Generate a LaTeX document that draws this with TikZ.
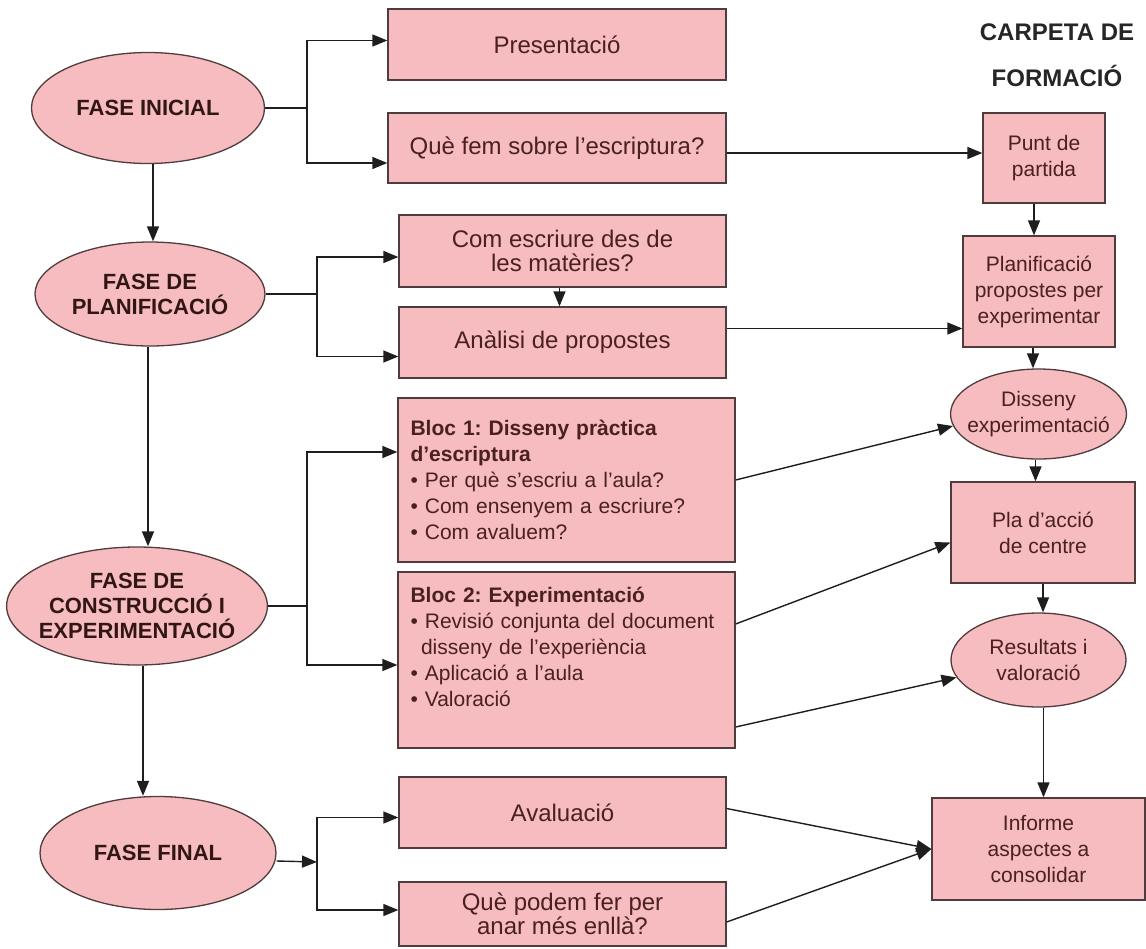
\documentclass[tikz,border=0pt]{standalone}
\usepackage{fontspec}
\setmainfont{Liberation Sans}
\usepackage{tikz}
\usetikzlibrary{shapes}
\usetikzlibrary{arrows.meta}
\definecolor{pinkfill}{RGB}{246,188,191}
\definecolor{edgecol}{RGB}{80,60,60}
\definecolor{txtcol}{RGB}{75,32,32}
\definecolor{phasetxt}{RGB}{50,22,22}
\definecolor{linecol}{RGB}{30,30,30}
\frenchspacing

\begin{document}
\begin{tikzpicture}[x=1pt,y=-1pt,>={Triangle[length=15pt,width=12pt]},
		box/.style={rectangle,draw=edgecol,fill=pinkfill,line width=1.3pt,inner sep=0pt,text=txtcol,align=center,font=\fontsize{24}{24}\selectfont},
		bloc/.style={box,align=left,text width=312pt,font=\fontsize{21}{26}\selectfont},
		rbox/.style={box,font=\fontsize{21}{26}\selectfont},
		phase/.style={ellipse,draw=edgecol,fill=pinkfill,line width=1.3pt,inner xsep=-6pt,inner ysep=0pt,align=center,text=phasetxt,font=\bfseries\fontsize{22}{25}\selectfont},
		rphase/.style={phase,inner xsep=-9pt,text=txtcol,font=\fontsize{21}{26}\selectfont},
		link/.style={draw=linecol,line width=1.4pt}]
		\useasboundingbox (0,0) rectangle (1146,948);
		
		\node[phase,minimum width=233pt,minimum height=111pt] (fi) at (148,108) {FASE INICIAL};
		\node[phase,minimum width=230pt,minimum height=104pt] (fp) at (150,294) {FASE DE\\PLANIFICACIÓ};
		\node[phase,minimum width=258pt,minimum height=118pt] (fc) at (137,606) {FASE DE\\CONSTRUCCIÓ I\\EXPERIMENTACIÓ};
		\node[phase,minimum width=236pt,minimum height=113pt] (ff) at (158,853) {FASE FINAL};
		
		\node[box,minimum width=338pt,minimum height=71pt] (pres)   at (557,44.5)  {Presentació};
		\node[box,minimum width=338pt,minimum height=70pt] (quefem) at (557,148)   {Què fem sobre l’escriptura?};
		\node[box,minimum width=327pt,minimum height=72pt] (com)    at (562.5,251) {Com escriure des de\\les matèries?};
		\node[box,minimum width=327pt,minimum height=71pt] (anal)   at (562.5,342.5) {Anàlisi de propostes};
		\node[bloc,minimum width=337pt,minimum height=164pt] (bloc1) at (566.5,480)
			{\textbf{Bloc 1: Disseny pràctica}\\\textbf{d’escriptura}\\• Per què s’escriu a l’aula?\\• Com ensenyem a escriure?\\• Com avaluem?};
		\node[bloc,minimum width=337pt,minimum height=176pt] (bloc2) at (566.5,660)
			{\textbf{Bloc 2: Experimentació}\\• Revisió conjunta del document\\\hspace*{0.5em}disseny de l’experiència\\• Aplicació a l’aula\\• Valoració\\\mbox{}};
		\node[box,minimum width=327pt,minimum height=71pt] (aval)   at (562.5,812.5) {Avaluació};
		\node[box,minimum width=327pt,minimum height=64pt] (quepod) at (562.5,914)   {Què podem fer per\\anar més enllà?};
		
		\node[font=\bfseries\fontsize{24}{46}\selectfont,text=black!85,align=center] (title) at (1057,55) {CARPETA DE\\FORMACIÓ};
		\node[rbox,minimum width=122pt,minimum height=90pt]  (punt) at (1044,158)    {Punt de\\partida};
		\node[rbox,minimum width=152pt,minimum height=111pt] (plan) at (1039,291.5)  {Planificació\\propostes per\\experimentar};
		\node[rphase,minimum width=175pt,minimum height=90pt] (diss) at (1038.5,414) {Disseny\\experimentació};
		\node[rbox,minimum width=184pt,minimum height=101pt] (pla)  at (1043,532.5)  {Pla d’acció\\de centre};
		\node[rphase,minimum width=175pt,minimum height=94pt] (res)  at (1038.5,660) {Resultats i\\valoració};
		\node[rbox,minimum width=213pt,minimum height=102pt] (inf)  at (1038.5,849)  {Informe\\aspectes a\\consolidar};
		
		\coordinate (j1) at (307,108);
		\coordinate (j2) at (317,294);
		\coordinate (j3) at (307,606);
		\coordinate (j4) at (317,862);
		
		\draw[link] (fi.east) -- (j1);
		\draw[link,->] (j1) |- ([yshift=4pt]pres.west);
		\draw[link,->] (j1) |- ([yshift=-15pt]quefem.west);
		\draw[link,->] ([xshift=5pt]fi.south) -- ([xshift=5pt]fi.south |- fp.north);
		\draw[link] (fp.east) -- (j2);
		\draw[link,->] (j2) |- ([yshift=-6pt]com.west);
		\draw[link,->] (j2) |- ([yshift=-14pt]anal.west);
		\draw[link,->] ([xshift=-2pt]fp.south) -- ([xshift=-2pt]fp.south |- fc.north);
		\draw[link] (fc.east) -- (j3);
		\draw[link,->] (j3) |- ([yshift=28pt]bloc1.west);
		\draw[link,->] (j3) |- ([yshift=-5pt]bloc2.west);
		\draw[link,->] ([xshift=6pt]fc.south) -- ([xshift=6pt]fc.south |- ff.north);
		\draw[link,->] ([yshift=-8pt]ff.east) -- (j4);
		\draw[link,->] (j4) |- ([yshift=-5pt]aval.west);
		\draw[link,->] (j4) |- ([yshift=4pt]quepod.west);
		\draw[link,->] ([xshift=-3pt]com.south) -- ([xshift=-3pt]com.south |- anal.north);
		
		\draw[link,->] ([yshift=-5pt]quefem.east) -- ([yshift=-5pt]quefem.east -| punt.west);
		\draw[link,->] ([xshift=-10pt]punt.south) -- ([xshift=-10pt]punt.south |- plan.north);
		\draw[link,->] ([yshift=14pt]anal.east) -- ([yshift=14pt]anal.east -| plan.west);
		\draw[link,->] ([xshift=-6pt]plan.south) -- ([xshift=-6pt]plan.south |- diss.north);
		\draw[link,->] (bloc1.east) -- (diss.188);
		\draw[link,->] ([xshift=-3pt]diss.south) -- ([xshift=-3pt]diss.south |- pla.north);
		\draw[link,->] ([yshift=36pt]bloc2.east) -- ([yshift=-10pt]pla.west);
		\draw[link,->] (pla.south) -- (pla.south |- res.north);
		\draw[link,->] ([yshift=-67pt]bloc2.east) -- (res.192);
		\draw[link,->] ([xshift=5pt]res.south) -- ([xshift=5pt]res.south |- inf.north);
		\draw[link,->] ([yshift=4pt]aval.east) -- (inf.west);
		\draw[link,->] ([yshift=-8pt]quepod.east) -- (inf.west);
\end{tikzpicture}
\end{document}
